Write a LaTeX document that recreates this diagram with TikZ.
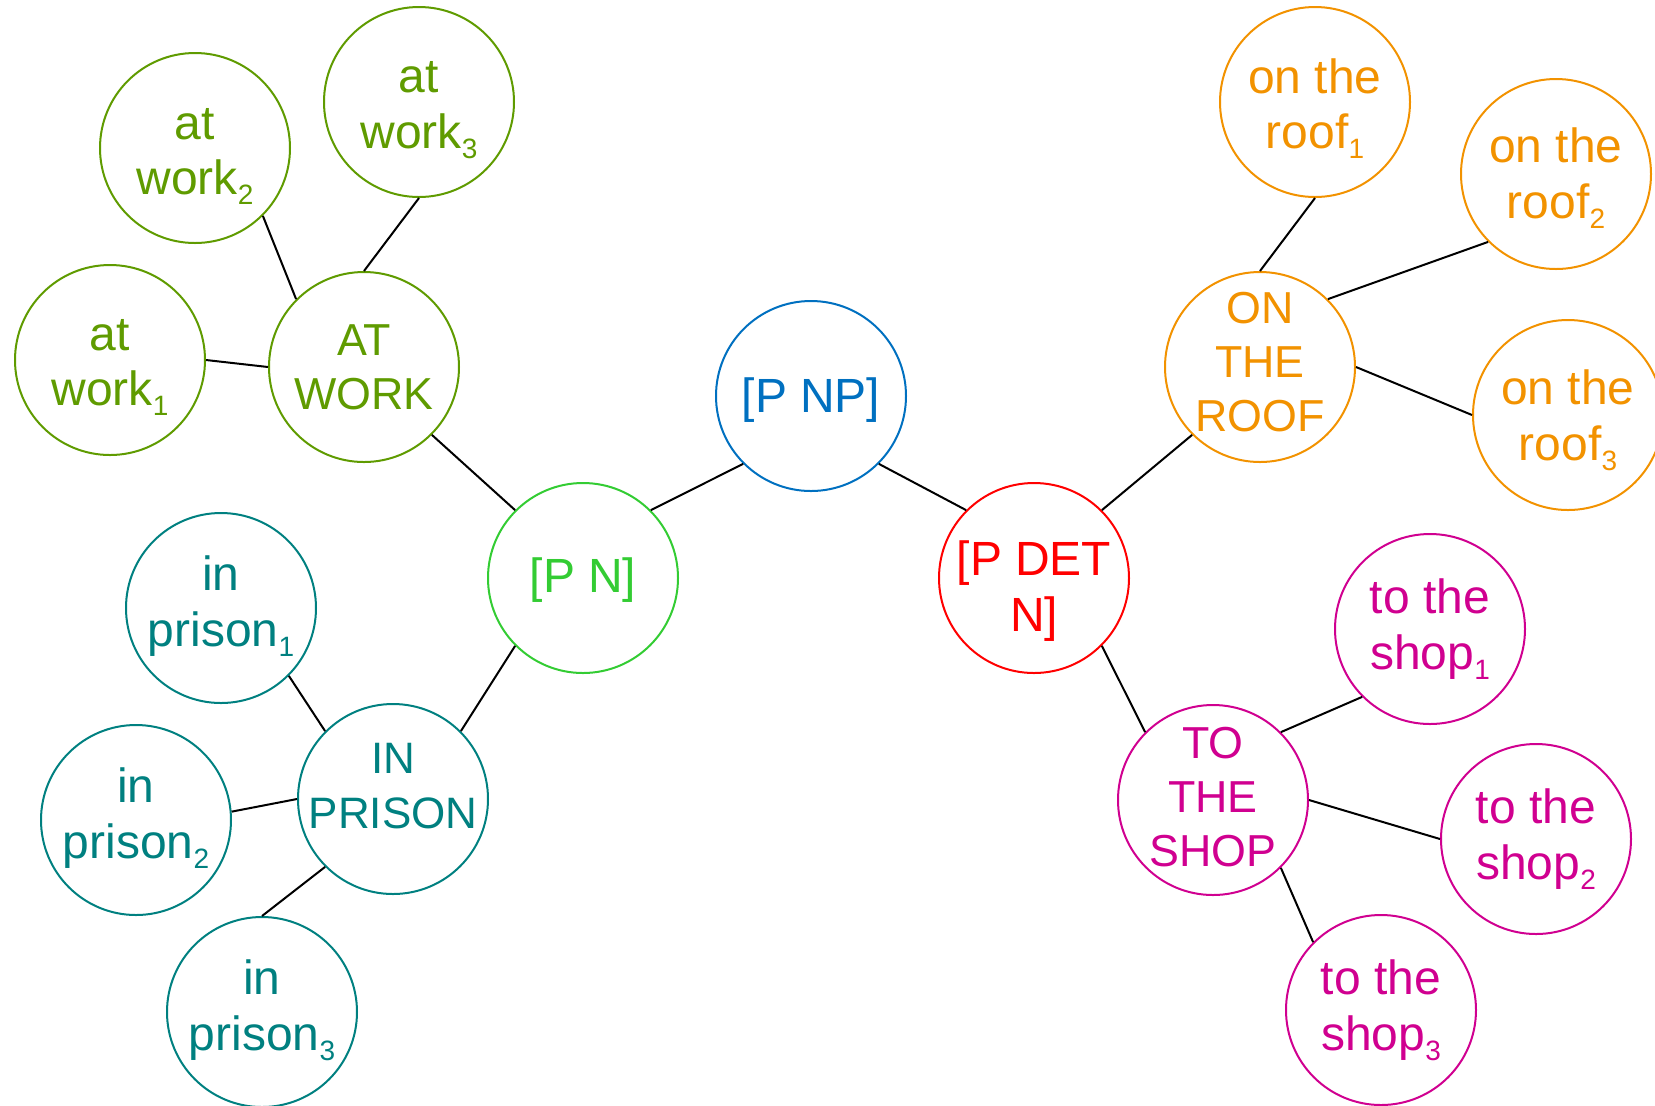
\documentclass[tikz,border=0pt]{standalone}
\usepackage{fontspec}
\setmainfont{Liberation Sans}
\definecolor{cwork}{RGB}{95,155,0}
\definecolor{cprison}{RGB}{0,128,128}
\definecolor{cpn}{RGB}{51,204,51}
\definecolor{cpnp}{RGB}{0,112,192}
\definecolor{cdet}{RGB}{255,0,0}
\definecolor{croof}{RGB}{242,146,0}
\definecolor{cshop}{RGB}{208,0,144}
\newcommand\sbs[1]{\raisebox{-5pt}{\fontsize{14}{14}\selectfont #1}}
\begin{document}
\begin{tikzpicture}[x=0.5pt,y=-0.5pt,
  bub/.style={circle,draw=#1,line width=1pt,minimum size=95pt,inner sep=0pt},
  txt/.style={text=#1,align=center,font=\fontsize{24}{27.8}\selectfont,inner sep=0pt},
  caps/.style={font=\fontsize{22.4}{27}\selectfont},
  link/.style={draw=black,line width=1pt}]
\useasboundingbox (0,0) rectangle (1655,1105);
\clip (0,0) rectangle (1655,1105);
% centre nodes
\node[bub=cpnp] (pnp) at (811,396) {};
\node[txt=cpnp,yshift=-2pt] (pnpt) at (pnp) {[P NP]};
\node[bub=cpn] (pn) at (583,578) {};
\node[txt=cpn,yshift=-1pt] (pnt) at (pn) {[P N]};
\node[bub=cdet] (pdn) at (1034,578) {};
\node[txt=cdet,yshift=-6.5pt] (pdnt) at (pdn) {[P DET\\N]};
% at work
\node[bub=cwork] (aw) at (364,367) {};
\node[txt=cwork,caps] (awt) at (aw) {AT\\WORK};
\node[bub=cwork] (aw1) at (110,360) {};
\node[txt=cwork,yshift=-3.7pt] (aw1t) at (aw1) {at\\work\sbs{1}};
\node[bub=cwork] (aw2) at (195,148) {};
\node[txt=cwork,yshift=-4.2pt] (aw2t) at (aw2) {at\\work\sbs{2}};
\node[bub=cwork] (aw3) at (419,102) {};
\node[txt=cwork,yshift=-4.2pt] (aw3t) at (aw3) {at\\work\sbs{3}};
% in prison
\node[bub=cprison] (ip) at (393,799) {};
\node[txt=cprison,font=\fontsize{22}{27.5}\selectfont,yshift=6.4pt] (ipt) at (ip) {IN\\PRISON};
\node[bub=cprison] (ip1) at (221,608) {};
\node[txt=cprison,yshift=1pt] (ip1t) at (ip1) {in\\prison\sbs{1}};
\node[bub=cprison] (ip2) at (136,820) {};
\node[txt=cprison,yshift=1pt] (ip2t) at (ip2) {in\\prison\sbs{2}};
\node[bub=cprison] (ip3) at (262,1012) {};
\node[txt=cprison,yshift=1pt] (ip3t) at (ip3) {in\\prison\sbs{3}};
% on the roof
\node[bub=croof] (or) at (1260,367) {};
\node[txt=croof,caps,yshift=2.6pt] (ort) at (or) {ON\\THE\\ROOF};
\node[bub=croof] (or1) at (1315,102) {};
\node[txt=croof,yshift=-3.2pt] (or1t) at (or1) {on the\\roof\sbs{1}};
\node[bub=croof] (or2) at (1556,174) {};
\node[txt=croof,yshift=-2.1pt] (or2t) at (or2) {on the\\roof\sbs{2}};
\node[bub=croof] (or3) at (1568,415) {};
\node[txt=croof,yshift=-2.6pt] (or3t) at (or3) {on the\\roof\sbs{3}};
% to the shop
\node[bub=cshop] (ts) at (1213,800) {};
\node[txt=cshop,caps,yshift=1.6pt] (tst) at (ts) {TO\\THE\\SHOP};
\node[bub=cshop] (ts1) at (1430,629) {};
\node[txt=cshop] (ts1t) at (ts1) {to the\\shop\sbs{1}};
\node[bub=cshop] (ts2) at (1536,839) {};
\node[txt=cshop] (ts2t) at (ts2) {to the\\shop\sbs{2}};
\node[bub=cshop] (ts3) at (1381,1010) {};
\node[txt=cshop] (ts3t) at (ts3) {to the\\shop\sbs{3}};
% connectors
\draw[link] (pn.north east) -- (pnp.south west);
\draw[link] (pnp.south east) -- (pdn.north west);
\draw[link] (aw.south east) -- (pn.north west);
\draw[link] (pn.south west) -- (ip.north east);
\draw[link] (pdn.north east) -- (or.south west);
\draw[link] (pdn.south east) -- (ts.north west);
\draw[link] (aw1.east) -- (aw.west);
\draw[link] (aw2.south east) -- (aw.north west);
\draw[link] (aw3.south) -- (aw.north);
\draw[link] (ip1.south east) -- (ip.north west);
\draw[link] (ip2.5) -- (ip.west);
\draw[link] (ip.south west) -- (ip3.north);
\draw[link] (or.north) -- (or1.south);
\draw[link] (or.north east) -- (or2.south west);
\draw[link] (or.east) -- (or3.west);
\draw[link] (ts.north east) -- (ts1.south west);
\draw[link] (ts.east) -- (ts2.west);
\draw[link] (ts.south east) -- (ts3.north west);
\end{tikzpicture}
\end{document}
